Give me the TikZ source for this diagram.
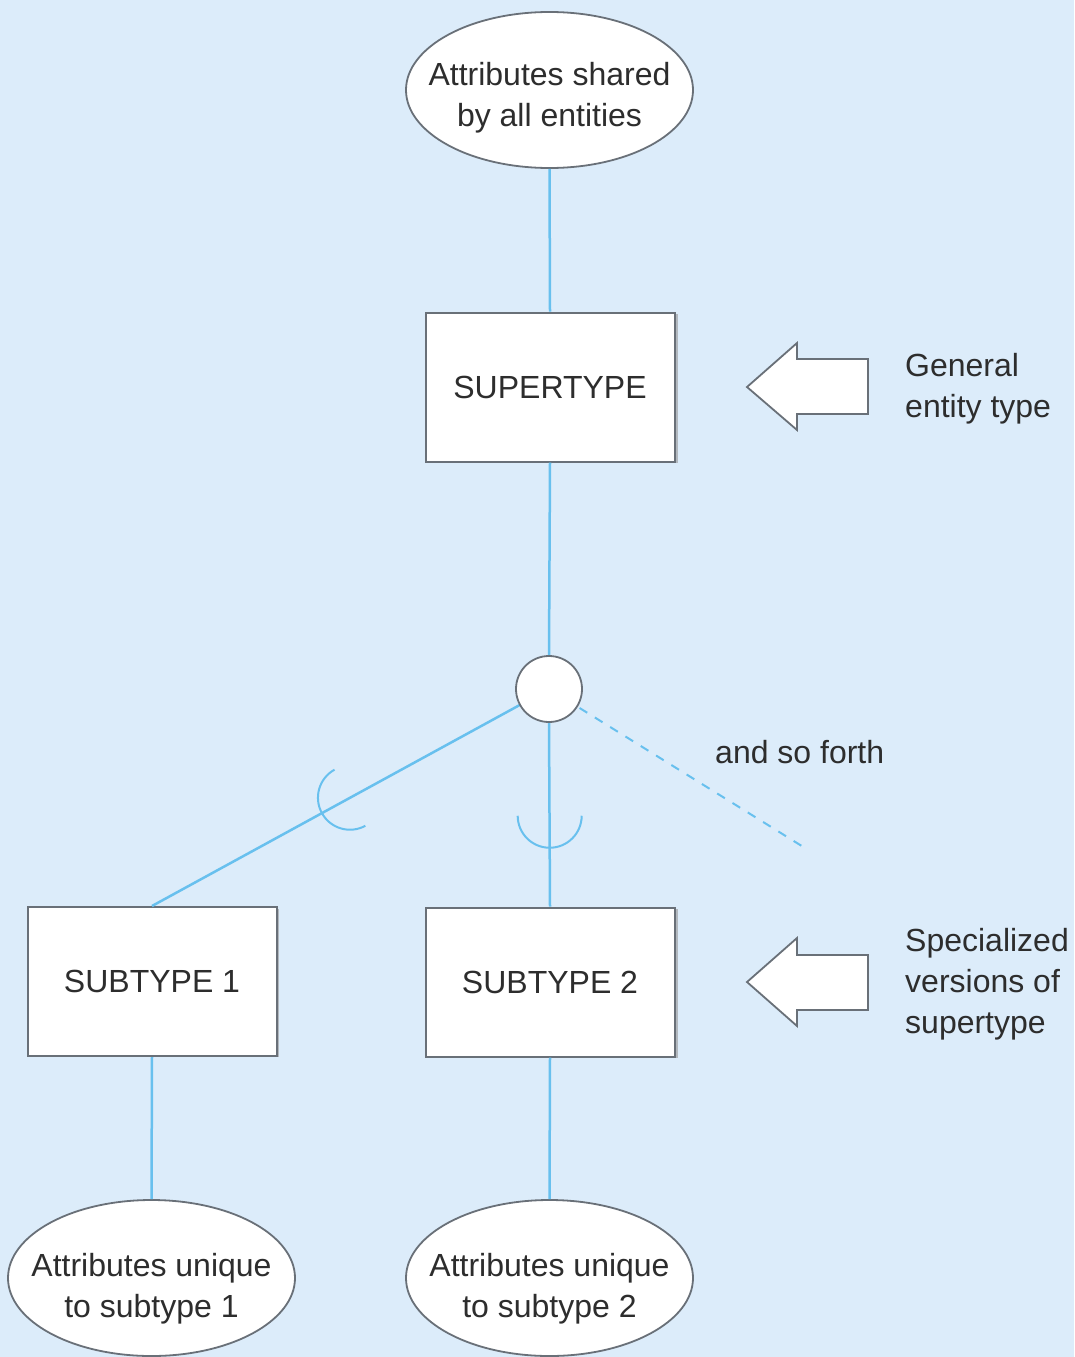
\documentclass[tikz,border=0pt]{standalone}
\usepackage{fontspec}
\setmainfont{Liberation Sans}
\usetikzlibrary{shapes.geometric,calc}
\definecolor{bgblue}{RGB}{220,236,250}
\definecolor{linkblue}{RGB}{104,192,238}
\definecolor{edgegray}{RGB}{105,112,120}
\definecolor{shadowgray}{RGB}{178,184,190}
\definecolor{txt}{RGB}{45,45,45}
\begin{document}
\begin{tikzpicture}[x=1pt,y=1pt,
  every node/.style={text=txt,font=\fontsize{32}{41}\selectfont},
  attrell/.style={ellipse,draw=edgegray,line width=1.8pt,fill=white,
    minimum width=287pt,minimum height=156pt,inner sep=0pt},
  label text/.style={align=center,inner sep=0pt},
  entbox/.style={rectangle,draw=edgegray,line width=2pt,fill=white,
    minimum width=249pt,minimum height=149pt,inner sep=0pt},
  boxshade/.style={fill=shadowgray},
  link/.style={draw=linkblue,line width=2.5pt},
  cup/.style={draw=linkblue,line width=2pt},
  blockarrow/.style={draw=edgegray,line width=1.8pt,fill=white,line join=miter},
  note/.style={align=left,anchor=west,inner sep=0pt}
]
% canvas
\fill[bgblue] (0,0) rectangle (1074,-1357);
\useasboundingbox (0,0) rectangle (1074,-1357);

% shadows behind the entity boxes
\fill[boxshade] (428,-314) rectangle (678,-463);
\fill[boxshade] (31,-909) rectangle (279,-1057);
\fill[boxshade] (428,-909) rectangle (678,-1058);

% junction centre and the free end of the dashed connector
\coordinate (kc) at (549,-689);
\coordinate (more) at (805,-848);

% nodes
\node[attrell] (top) at (549.5,-90) {};
\node[entbox] (sup) at (550,-387) {SUPERTYPE};
\node[entbox] (s1) at (152,-981.5) {SUBTYPE 1};
\node[entbox] (s2) at (550,-982) {SUBTYPE 2};
\node[attrell] (u1) at (151.5,-1278) {};
\node[attrell] (u2) at (549.5,-1278) {};

% connectors (the junction circle is filled on top of them)
\draw[link] (top.south) -- (sup.north);
\draw[link] (sup.south) -- ($(kc)+(0,33)$);
\draw[link] ($(kc)+(0,-33)$) -- (s2.north);
\draw[link] (kc) -- (s1.north);
\draw[link,line width=2pt,dash pattern=on 9pt off 9pt] (kc) -- (more);
\draw[link] (s1.south) -- (u1.north);
\draw[link] (s2.south) -- (u2.north);

% subtype junction circle
\node[circle,draw=edgegray,line width=1.8pt,fill=white,minimum size=66pt,inner sep=0pt] (k) at (kc) {};

% ellipse texts
\node[label text] (topt) at (549.5,-98) {Attributes shared\\by all entities};
\node[label text] (u1t) at (151.5,-1289) {Attributes unique\\to subtype 1};
\node[label text] (u2t) at (549.5,-1289) {Attributes unique\\to subtype 2};

% subset cups, open towards the supertype
\coordinate (c2) at ($(k.south)!0.68!(s2.north)$);
\draw[cup] (c2) ++(90:32) ++(180:32) arc[start angle=180,end angle=360,radius=32];
\coordinate (c1) at ($(kc)!0.572!(s1.north)$);
\draw[cup] (c1) ++(28.8:32) ++(118.8:32) arc[start angle=118.8,end angle=298.8,radius=32];

% side block arrows and their notes
\draw[blockarrow] (747,-387) -- (797,-343) -- (797,-359) -- (868,-359)
  -- (868,-414) -- (797,-414) -- (797,-430) -- cycle;
\draw[blockarrow] (747,-982) -- (797,-938) -- (797,-955) -- (868,-955)
  -- (868,-1010) -- (797,-1010) -- (797,-1026) -- cycle;
\node[note] (gen) at (905,-389) {General\\entity type};
\node[note] (spec) at (905,-984) {Specialized\\versions of\\supertype};
\node[note] (forth) at (715,-752) {and so forth};
\end{tikzpicture}
\end{document}
